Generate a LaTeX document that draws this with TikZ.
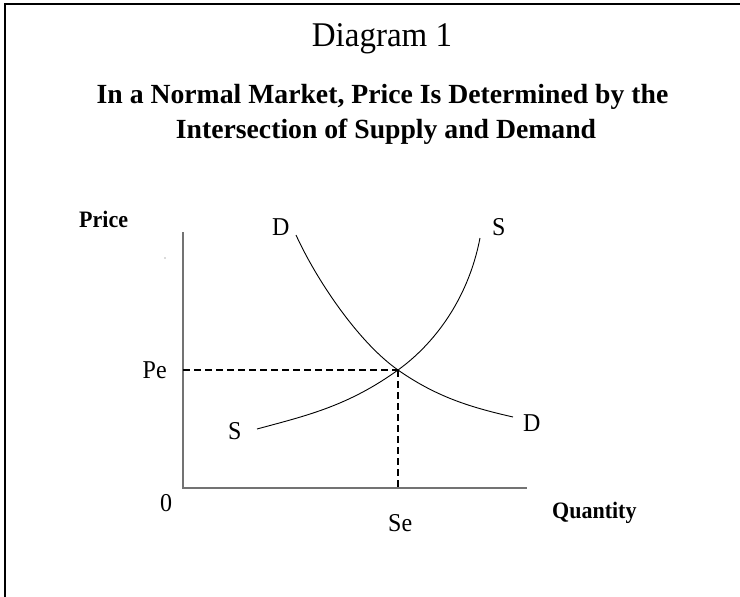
\documentclass[tikz,border=0pt]{standalone}
\usepackage{fontspec}
\setmainfont{Liberation Serif}
\newcommand\tallbox[1]{\scalebox{1}[1.07]{#1}}
\begin{document}
\begin{tikzpicture}[x=1pt,y=-1pt,
  lbl/.style={inner sep=0pt,anchor=base west,font=\fontsize{24}{28}\selectfont},
  axlbl/.style={inner sep=0pt,anchor=base west,font=\fontsize{22}{26}\selectfont\bfseries},
  ttl/.style={inner sep=0pt,anchor=base,font=\fontsize{27.7}{32}\selectfont\bfseries},
  axis/.style={draw=black!55,line width=1.6pt},
  curve/.style={draw=black,line width=0.9pt},
  guide/.style={draw=black,line width=1.8pt,dash pattern=on 7pt off 4pt},
  frame/.style={draw=black,line width=2.6pt}]
\useasboundingbox (0,0) rectangle (740,597);
\fill[white] (0,0) rectangle (740,597);
% frame (top and left only)
\coordinate (fa) at (5,597);
\coordinate (fb) at (5,4);
\coordinate (fc) at (740,4);
\draw[frame] (fa) -- (fb) -- (fc);
% titles
\node[ttl,font=\fontsize{33}{38}\selectfont] (title) at (382,46) {\scalebox{1}[1.05]{Diagram 1}};
\node[ttl] (sub1) at (382.5,103) {In a Normal Market, Price Is Determined by the};
\node[ttl] (sub2) at (386,138) {Intersection of Supply and Demand};
% axes
\coordinate (O) at (183,488);
\coordinate (ytop) at (183,232);
\coordinate (xend) at (527,488);
\draw[axis] (ytop) -- (O) -- (xend);
% equilibrium
\coordinate (E) at (398,370);
\coordinate (Py) at (183,370);
\coordinate (Sx) at (398,488);
\draw[guide] (Py) -- (E);
\draw[guide] (E) -- (Sx);
% demand curve
\coordinate (D1) at (296,235);
\coordinate (D2) at (513,417);
\draw[curve] (D1) .. controls (316,279) and (358,342) .. (E)
                  .. controls (438,398) and (473,407.8) .. (D2);
% supply curve
\coordinate (S1) at (257,429);
\coordinate (S2) at (480,238);
\draw[curve] (S1) .. controls (307,415.5) and (348,406) .. (E)
                  .. controls (433,344.8) and (468,300.4) .. (S2);
% stray dot
\fill[black!60] (165,258) circle (0.7);
% labels
\node[axlbl] (price) at (79,227) {\tallbox{Price}};
\node[axlbl] (qty) at (552,518) {\tallbox{Quantity}};
\node[lbl] (Dtop) at (272,235) {\tallbox{D}};
\node[lbl] (Stop) at (492,235) {\tallbox{S}};
\node[lbl] (Pe) at (142.5,378) {\tallbox{Pe}};
\node[lbl] (Sbot) at (228,439) {\tallbox{S}};
\node[lbl] (Dbot) at (523,431) {\tallbox{D}};
\node[lbl] (zero) at (160,511) {\tallbox{0}};
\node[lbl] (Se) at (388,531) {\tallbox{Se}};
\end{tikzpicture}
\end{document}
